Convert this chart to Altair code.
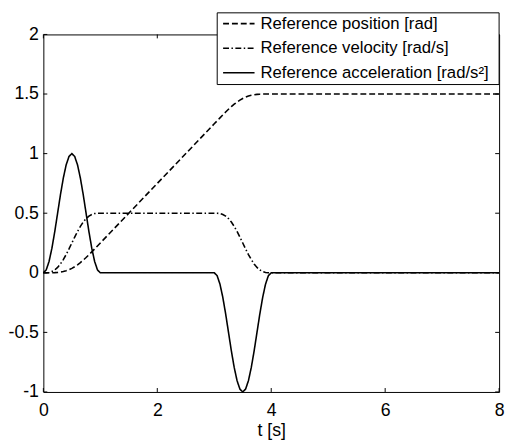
import altair as alt
import pandas as pd

series_names = ["Reference position [rad]", "Reference velocity [rad/s]", "Reference acceleration [rad/s²]"]

t_values = [0.0, 0.05, 0.1, 0.15, 0.2, 0.25, 0.3, 0.35, 0.4, 0.45, 0.5, 0.55, 0.6, 0.65, 0.7, 0.75, 0.8, 0.85, 0.9, 0.95, 1.0,
            3.0, 3.05, 3.1, 3.15, 3.2, 3.25, 3.3, 3.35, 3.4, 3.45, 3.5, 3.55, 3.6, 3.65, 3.7, 3.75, 3.8, 3.85, 3.9, 3.95, 4.0,
            8.0]

position = [0.0, 0.0, 0.0001, 0.0004, 0.0012, 0.003, 0.0059, 0.0105, 0.0171, 0.0259, 0.0372, 0.0509, 0.0671, 0.0855, 0.1059, 0.128, 0.1512, 0.1754, 0.2001, 0.225, 0.25,
            1.25, 1.275, 1.2999, 1.3246, 1.3488, 1.372, 1.3941, 1.4145, 1.4329, 1.4491, 1.4628, 1.4741, 1.4829, 1.4895, 1.4941, 1.497, 1.4988, 1.4996, 1.4999, 1.5, 1.5,
            1.5]

velocity = [0.0, 0.0004, 0.003, 0.011, 0.024, 0.045, 0.074, 0.111, 0.153, 0.2, 0.25, 0.3, 0.347, 0.389, 0.426, 0.455, 0.476, 0.489, 0.497, 0.4996, 0.5,
            0.5, 0.4996, 0.497, 0.489, 0.476, 0.455, 0.426, 0.389, 0.347, 0.3, 0.25, 0.2, 0.153, 0.111, 0.074, 0.045, 0.024, 0.011, 0.003, 0.0004, 0.0,
            0.0]

acceleration = [0.0, 0.024, 0.095, 0.206, 0.345, 0.5, 0.655, 0.794, 0.905, 0.976, 1.0, 0.976, 0.905, 0.794, 0.655, 0.5, 0.345, 0.206, 0.095, 0.024, 0.0,
                0.0, -0.024, -0.095, -0.206, -0.345, -0.5, -0.655, -0.794, -0.905, -0.976, -1.0, -0.976, -0.905, -0.794, -0.655, -0.5, -0.345, -0.206, -0.095, -0.024, 0.0,
                0.0]

x_ticks = [0, 2, 4, 6, 8]
y_ticks = [-1, -0.5, 0, 0.5, 1, 1.5, 2]

rows = []
for name, vals in zip(series_names, [position, velocity, acceleration]):
    for i, (t, v) in enumerate(zip(t_values, vals)):
        rows.append({"t": t, "value": v, "series": name, "order": i})
df = pd.DataFrame(rows)

W, H = 464, 364
FONT = "Liberation Sans"
FS = 18
LFS = 17

xscale = alt.Scale(domain=[0, 8], nice=False, zero=False)
yscale = alt.Scale(domain=[-1, 2], nice=False, zero=False)

lines = alt.Chart(df).mark_line(color="black", strokeWidth=1.6).encode(
    x=alt.X("t:Q", scale=xscale,
            axis=alt.Axis(values=x_ticks, title="t [s]", ticks=False, domain=False, grid=False,
                          labelFontSize=FS, titleFontSize=FS, titleFontWeight="normal",
                          labelColor="black", titleColor="black", labelPadding=10, titlePadding=2,
                          labelExpr="'' + datum.value",
                          labelFlush=False, labelOverlap=False, labelFont=FONT, titleFont=FONT)),
    y=alt.Y("value:Q", scale=yscale,
            axis=alt.Axis(values=y_ticks, title=None, ticks=False, domain=False, grid=False,
                          labelFontSize=FS, labelColor="black", labelPadding=5,
                          labelExpr="'' + datum.value", labelFlush=False, labelOverlap=False,
                          labelFont=FONT)),
    strokeDash=alt.StrokeDash("series:N",
                              scale=alt.Scale(domain=series_names,
                                              range=[[6, 3], [6, 2.5, 1.5, 2.5], [1, 0]]),
                              legend=alt.Legend(title=None, orient="none", legendX=182, legendY=-28,
                                                padding=0, symbolType="stroke", symbolSize=1024,
                                                symbolStrokeWidth=1.6, symbolStrokeColor="black",
                                                labelFontSize=LFS, labelFont=FONT, labelColor="black",
                                                labelOffset=5, rowPadding=-9, labelLimit=400)),
    order="order:Q",
)

# white legend box drawn above the curves (the legend itself renders on top)
legend_box = alt.Chart(pd.DataFrame({"k": [0]})).mark_rect(
    fill="white", stroke="black", strokeWidth=1).encode(
    x=alt.value(177), x2=alt.value(W), y=alt.value(-22), y2=alt.value(51))

tick_df = pd.DataFrame({"xt": x_ticks})
ytick_df = pd.DataFrame({"yt": y_ticks})

bottom_ticks = alt.Chart(tick_df).mark_rule(color="black", strokeWidth=1).encode(
    x=alt.X("xt:Q", scale=xscale), y=alt.value(H), y2=alt.value(H - 4))
top_ticks = alt.Chart(tick_df).mark_rule(color="black", strokeWidth=1).encode(
    x=alt.X("xt:Q", scale=xscale), y=alt.value(0), y2=alt.value(4))
left_ticks = alt.Chart(ytick_df).mark_rule(color="black", strokeWidth=1).encode(
    y=alt.Y("yt:Q", scale=yscale), x=alt.value(0), x2=alt.value(4))
right_ticks = alt.Chart(ytick_df).mark_rule(color="black", strokeWidth=1).encode(
    y=alt.Y("yt:Q", scale=yscale), x=alt.value(W), x2=alt.value(W - 4))

chart = alt.layer(bottom_ticks, top_ticks, left_ticks, right_ticks, lines, legend_box).properties(
    width=W, height=H,
    autosize=alt.AutoSizeParams(type="none"),
    padding={"left": 36, "top": 23, "right": 6, "bottom": 46},
    background="white",
).configure_view(stroke="black", strokeWidth=1)

chart.save("out.html", embed_options={"renderer": "svg", "actions": False})
